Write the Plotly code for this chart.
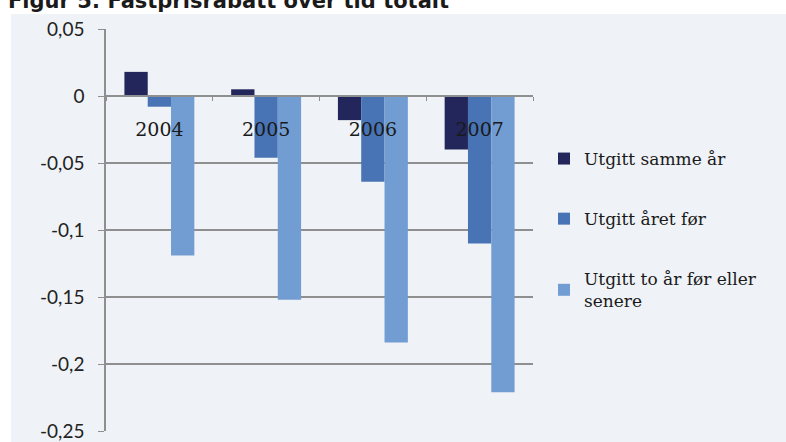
import plotly.graph_objects as go

# Years on the category axis
years = ["2004", "2005", "2006", "2007"]

# Fixed-price discount per publication group
samme_aar = [0.018, 0.005, -0.018, -0.040]
aaret_foer = [-0.008, -0.046, -0.064, -0.110]
to_aar_foer = [-0.119, -0.152, -0.184, -0.221]

series_names = [
    "Utgitt samme år",
    "Utgitt året før",
    "Utgitt to år før eller<br>senere",
]
series_colors = ["#22265a", "#4874b5", "#729dd2"]

# Y-axis ticks with comma decimals
y_tickvals = [0.05, 0.0, -0.05, -0.1, -0.15, -0.2, -0.25]
y_ticktext = ["0,05", "0", "-0,05", "-0,1", "-0,15", "-0,2", "-0,25"]

title_text = "Figur 5: Fastprisrabatt over tid totalt"

Y_MIN, Y_MAX = -0.25, 0.05

fig = go.Figure()
for i, (name, vals, col) in enumerate(
    zip(series_names, [samme_aar, aaret_foer, to_aar_foer], series_colors)
):
    fig.add_trace(
        go.Bar(
            x=years,
            y=vals,
            name=name,
            marker=dict(color=col, line=dict(width=0)),
            legendgroup=f"g{i}",
        )
    )

# Plot area: 106..533 px horizontally, 29..431 px vertically
W, H = 786, 442
L, R, T, B = 106, 253, 29, 11
pw, ph = W - L - R, H - T - B

def px_x(px):
    return (px - L) / pw

def px_y(py):
    return 1 - (py - T) / ph

zero_pos = (0 - Y_MIN) / (Y_MAX - Y_MIN)

fig.update_layout(
    width=W,
    height=H,
    margin=dict(l=L, r=R, t=T, b=B, autoexpand=False),
    paper_bgcolor="white",
    plot_bgcolor="rgba(0,0,0,0)",
    barmode="group",
    bargap=0.345,
    bargroupgap=0,
    showlegend=True,
    legend=dict(
        x=px_x(544),
        y=px_y(141),
        xanchor="left",
        yanchor="top",
        traceorder="grouped",
        tracegroupgap=35,
        font=dict(family="DejaVu Serif", size=17, color="#1a1a1a"),
        bgcolor="rgba(0,0,0,0)",
        itemwidth=30,
    ),
    xaxis=dict(
        type="category",
        anchor="free",
        position=zero_pos,
        automargin=False,
        showline=True,
        linecolor="#8f8f8f",
        linewidth=1.5,
        ticks="outside",
        ticklen=4,
        tickcolor="#8f8f8f",
        tickson="boundaries",
        showgrid=False,
        ticklabelstandoff=16,
        tickfont=dict(family="DejaVu Serif", size=19, color="#1a1a1a"),
        layer="above traces",
    ),
    yaxis=dict(
        range=[Y_MIN, Y_MAX],
        automargin=False,
        tickvals=y_tickvals,
        ticktext=y_ticktext,
        showgrid=True,
        gridcolor="#8f8f8f",
        gridwidth=1.5,
        zeroline=False,
        showline=True,
        linecolor="#8f8f8f",
        linewidth=1.5,
        ticks="outside",
        ticklen=6,
        tickcolor="#8f8f8f",
        ticklabelstandoff=10,
        tickfont=dict(family="Lato", size=19, color="#222222"),
    ),
    shapes=[
        dict(
            type="rect",
            xref="paper",
            yref="paper",
            x0=px_x(11),
            x1=px_x(800),
            y0=px_y(460),
            y1=px_y(14),
            fillcolor="#eff2f7",
            line=dict(width=0),
            layer="below",
        )
    ],
    annotations=[
        dict(
            text="<b>" + title_text + "</b>",
            xref="paper",
            yref="paper",
            x=px_x(6),
            y=px_y(15),
            xanchor="left",
            yanchor="bottom",
            showarrow=False,
            font=dict(family="DejaVu Sans", size=21, color="#1a1a1a"),
        )
    ],
)

fig.write_html("out.html")
